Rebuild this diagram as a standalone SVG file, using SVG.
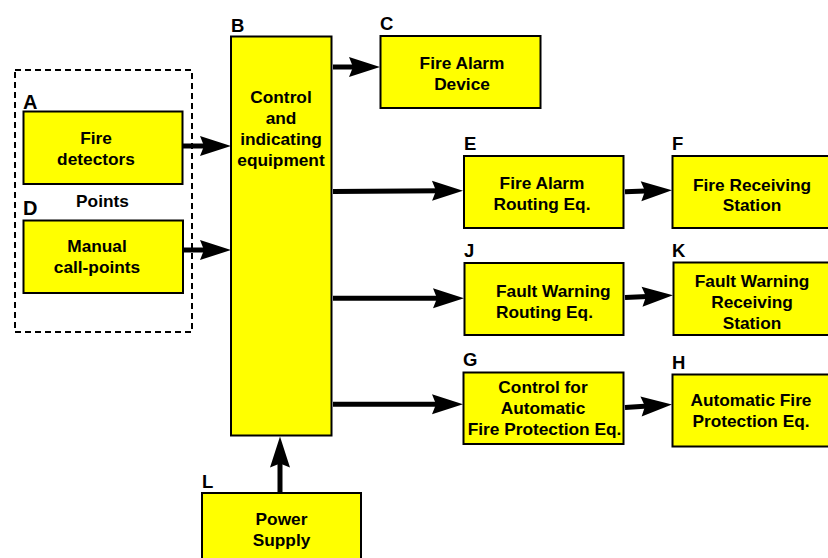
<svg xmlns="http://www.w3.org/2000/svg" width="828" height="558" viewBox="0 0 828 558">
<style>
.box{fill:#FFFF00;stroke:#000;stroke-width:2}
.t{font-family:"Liberation Sans",Arial,sans-serif;font-weight:bold;font-size:17.3px;fill:#000;text-anchor:middle}
.tl{font-family:"Liberation Sans",Arial,sans-serif;font-weight:bold;font-size:17.3px;fill:#000}
.lbl{font-family:"Liberation Sans",Arial,sans-serif;font-weight:bold;font-size:18.5px;fill:#000}
.lbig{font-size:20px}
.c{stroke:#000;stroke-width:5;fill:none;marker-end:url(#ah)}
</style>
<defs>
<marker id="ah" markerUnits="userSpaceOnUse" markerWidth="32" markerHeight="20" refX="11" refY="10" orient="auto" overflow="visible">
<path d="M0,0 L31,10 L0,20 L4,10 z" fill="#000"/>
</marker>
</defs>
<rect x="0" y="0" width="828" height="558" fill="#fff"/>
<g id="points">
<rect x="15" y="70" width="177" height="262" fill="none" stroke="#000" stroke-width="2" stroke-dasharray="6,4"/>
<text class="t" x="102.5" y="207">Points</text>
</g>
<g id="node-A">
<rect class="box" x="23.5" y="111.5" width="159" height="72.5"/>
<text class="lbl lbig" x="23" y="108.5">A</text>
<text class="t" x="96" y="144">Fire</text>
<text class="t" x="96" y="165">detectors</text>
</g>
<g id="node-D">
<rect class="box" x="23.5" y="220.5" width="159.5" height="72.5"/>
<text class="lbl lbig" x="23" y="215">D</text>
<text class="t" x="97" y="252">Manual</text>
<text class="t" x="97" y="273">call-points</text>
</g>
<g id="node-B">
<rect class="box" x="231" y="36.5" width="100.5" height="399"/>
<text class="lbl" x="231" y="31.5">B</text>
<text class="t" x="281" y="103">Control</text>
<text class="t" x="281" y="124">and</text>
<text class="t" x="281" y="145">indicating</text>
<text class="t" x="281" y="166">equipment</text>
</g>
<g id="node-C">
<rect class="box" x="380.5" y="36" width="160" height="72"/>
<text class="lbl" x="380" y="30">C</text>
<text class="t" x="462" y="69.3">Fire Alarm</text>
<text class="t" x="462" y="90">Device</text>
</g>
<g id="node-E">
<rect class="box" x="464" y="156" width="159.5" height="72"/>
<text class="lbl" x="464" y="150">E</text>
<text class="t" x="542" y="189.3">Fire Alarm</text>
<text class="t" x="542" y="209.5">Routing Eq.</text>
</g>
<g id="node-F">
<rect class="box" x="672.5" y="156" width="160" height="72"/>
<text class="lbl" x="672" y="150">F</text>
<text class="t" x="752" y="190.7">Fire Receiving</text>
<text class="t" x="752" y="211">Station</text>
</g>
<g id="node-J">
<rect class="box" x="464.5" y="263" width="159" height="72"/>
<text class="lbl" x="464" y="257">J</text>
<text class="tl" x="496" y="297.3">Fault Warning</text>
<text class="tl" x="496" y="318.3">Routing Eq.</text>
</g>
<g id="node-K">
<rect class="box" x="673.5" y="262.5" width="160" height="72.5"/>
<text class="lbl" x="672" y="257">K</text>
<text class="t" x="752" y="286.7">Fault Warning</text>
<text class="t" x="752" y="307.7">Receiving</text>
<text class="t" x="752" y="329">Station</text>
</g>
<g id="node-G">
<rect class="box" x="463.5" y="372.5" width="160" height="71.5"/>
<text class="lbl" x="463" y="366">G</text>
<text class="t" x="543" y="393.3">Control for</text>
<text class="t" x="543" y="414.3">Automatic</text>
<text class="t" x="544.5" y="435.3">Fire Protection Eq.</text>
</g>
<g id="node-H">
<rect class="box" x="672.5" y="374.5" width="160" height="72"/>
<text class="lbl" x="672" y="369">H</text>
<text class="t" x="751" y="405.7">Automatic Fire</text>
<text class="t" x="751" y="426.7">Protection Eq.</text>
</g>
<g id="node-L">
<rect class="box" x="202" y="493" width="159" height="80"/>
<text class="lbl" x="202" y="488">L</text>
<text class="t" x="281.5" y="525">Power</text>
<text class="t" x="281.5" y="545.7">Supply</text>
</g>
<g id="connectors">
<line class="c" x1="333" y1="67" x2="360" y2="67"/>
<line class="c" x1="182.5" y1="146" x2="211" y2="146"/>
<line class="c" x1="183" y1="250" x2="211" y2="250"/>
<line class="c" x1="333" y1="191.5" x2="443" y2="190.8"/>
<line class="c" x1="625" y1="191.7" x2="652" y2="190.8"/>
<line class="c" x1="333" y1="298.3" x2="444" y2="298.3"/>
<line class="c" x1="625" y1="297.5" x2="653" y2="296.2"/>
<line class="c" x1="333" y1="404.3" x2="443" y2="404.3"/>
<line class="c" x1="625" y1="407.5" x2="652" y2="405.8"/>
<line class="c" x1="280" y1="493" x2="280" y2="456.5"/>
</g>
</svg>
